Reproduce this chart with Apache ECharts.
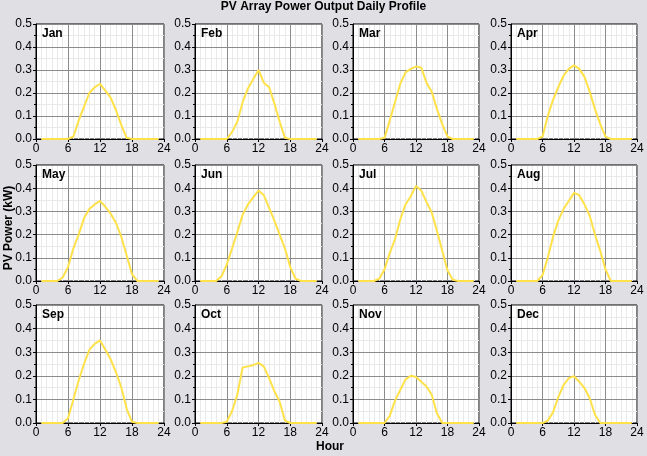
<!DOCTYPE html>
<html><head><meta charset="utf-8">
<script src="https://cdn.jsdelivr.net/npm/echarts@6/dist/echarts.min.js"></script>
<style>html,body{margin:0;padding:0;background:#e0e0e4}#c{width:647px;height:456px}</style>
</head><body><div id="c"></div>
<script>
const months = ['Jan','Feb','Mar','Apr','May','Jun','Jul','Aug','Sep','Oct','Nov','Dec'];
const hours = [1,2,3,4,5,6,7,8,9,10,11,12,13,14,15,16,17,18,19,20,21,22,23];
const xTicks = [0,6,12,18,24];
const yTicks = [0,0.1,0.2,0.3,0.4,0.5];
const jan = [0,0,0,0,0,0,0.01,0.08,0.14,0.2,0.225,0.24,0.21,0.18,0.125,0.06,0.005,0,0,0,0,0,0];
const feb = [0,0,0,0,0,0,0.03,0.075,0.16,0.22,0.26,0.3,0.245,0.225,0.155,0.075,0.005,0,0,0,0,0,0];
const mar = [0,0,0,0,0,0.005,0.08,0.16,0.24,0.29,0.305,0.315,0.31,0.245,0.205,0.13,0.065,0.01,0,0,0,0,0];
const apr = [0,0,0,0,0,0.01,0.1,0.17,0.225,0.275,0.305,0.32,0.305,0.27,0.205,0.13,0.065,0.01,0,0,0,0,0];
const may = [0,0,0,0,0.015,0.06,0.14,0.2,0.27,0.31,0.33,0.345,0.32,0.29,0.25,0.19,0.11,0.03,0,0,0,0,0];
const jun = [0,0,0,0,0.02,0.07,0.14,0.21,0.285,0.33,0.36,0.39,0.37,0.315,0.26,0.2,0.14,0.06,0.01,0,0,0,0];
const jul = [0,0,0,0,0.01,0.05,0.12,0.18,0.265,0.33,0.365,0.41,0.39,0.34,0.295,0.215,0.13,0.045,0.005,0,0,0,0];
const aug = [0,0,0,0,0,0.025,0.1,0.19,0.26,0.31,0.345,0.38,0.37,0.33,0.28,0.2,0.13,0.05,0,0,0,0,0];
const sep = [0,0,0,0,0,0.02,0.1,0.18,0.25,0.31,0.335,0.35,0.31,0.27,0.215,0.15,0.06,0.005,0,0,0,0,0];
const oct = [0,0,0,0,0,0.005,0.05,0.12,0.235,0.24,0.245,0.255,0.24,0.19,0.135,0.09,0.01,0,0,0,0,0,0];
const nov = [0,0,0,0,0,0,0.03,0.095,0.14,0.185,0.2,0.195,0.175,0.155,0.12,0.04,0,0,0,0,0,0,0];
const dec = [0,0,0,0,0,0,0.01,0.045,0.11,0.16,0.19,0.198,0.175,0.148,0.105,0.035,0,0,0,0,0,0,0];
const monthData = [jan,feb,mar,apr,may,jun,jul,aug,sep,oct,nov,dec];

const colLeft = [36,195,353,511];
const colWidth = [128,127,126,126];
const rowTop = [24,165,305];
const rowHeight = [115,116,118];
const FONT = 'Liberation Sans, Arial, sans-serif';
const solid = (color,width)=>({color, width:width||1, type:'solid'});

const grid=[], xAxis=[], yAxis=[], series=[], graphic=[];
monthData.forEach((arr,i)=>{
  const r=Math.floor(i/4), c=i%4;
  grid.push({left:colLeft[c], top:rowTop[r], width:colWidth[c], height:rowHeight[r],
    show:true, backgroundColor:'#ffffff', borderColor:'#000000', borderWidth:1, containLabel:false});
  // main x axis
  xAxis.push({type:'value', gridIndex:i, position:'bottom', min:xTicks[0], max:xTicks[xTicks.length-1], interval:6, z:3,
    axisLine:{show:true, lineStyle:solid('#000')},
    axisTick:{show:true, length:3, lineStyle:solid('#000')},
    axisLabel:{color:'#000', fontSize:12, fontFamily:FONT, margin:4, showMaxLabel:true, showMinLabel:true},
    splitLine:{show:true, lineStyle:solid('#8c8c8c')}
  });
  // minor x lines (hourly)
  xAxis.push({type:'value', gridIndex:i, position:'top', min:xTicks[0], max:xTicks[xTicks.length-1], interval:1, z:1,
    axisLine:{show:false}, axisTick:{show:false}, axisLabel:{show:false},
    splitLine:{show:true, lineStyle:solid('#e9e9e9')}
  });
  yAxis.push({type:'value', gridIndex:i, position:'left', min:yTicks[0], max:yTicks[yTicks.length-1], interval:0.1, z:3,
    axisLine:{show:true, lineStyle:solid('#000')},
    axisTick:{show:true, length:3, lineStyle:solid('#000')},
    axisLabel:{color:'#000', fontSize:12, fontFamily:FONT, margin:4, formatter:v=>v.toFixed(1)},
    splitLine:{show:true, lineStyle:solid('#8c8c8c')},
    minorTick:{show:true, splitNumber:2, length:2, lineStyle:solid('#000')},
    minorSplitLine:{show:false}
  });
  yAxis.push({type:'value', gridIndex:i, position:'right', min:yTicks[0], max:yTicks[yTicks.length-1], interval:0.05, z:1,
    axisLine:{show:false}, axisTick:{show:false}, axisLabel:{show:false},
    splitLine:{show:true, lineStyle:solid('#e9e9e9')}
  });
  series.push({type:'line', xAxisIndex:2*i, yAxisIndex:2*i, showSymbol:false, symbol:'none',
    data:hours.map((h,j)=>[h,arr[j]]),
    lineStyle:{color:'#ffe24a', width:2, type:'solid'}, z:5});
  graphic.push({type:'text', left:colLeft[c]+6, top:rowTop[r]+4,
    style:{text:months[i], font:'bold 12px '+FONT, fill:'#000'}, z:100});
});
graphic.push({type:'text', left:'center', top:1, style:{text:'PV Array Power Output Daily Profile', font:'bold 12px '+FONT, fill:'#000'}});
graphic.push({type:'text', left:316, top:441, style:{text:'Hour', font:'bold 12px '+FONT, fill:'#000'}});
graphic.push({type:'text', x:9, y:228, rotation:Math.PI/2,
  style:{text:'PV Power (kW)', font:'bold 12px '+FONT, fill:'#000', align:'center', verticalAlign:'middle'}});

const chart = echarts.init(document.getElementById('c'), null, {renderer:'canvas'});
chart.setOption({backgroundColor:'#e0e0e4', animation:false, grid, xAxis, yAxis, series, graphic});
</script></body></html>
